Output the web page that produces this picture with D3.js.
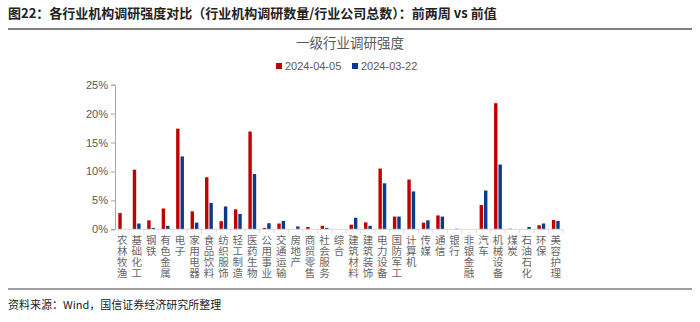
<!DOCTYPE html>
<html><head><meta charset="utf-8">
<script src="https://cdn.jsdelivr.net/npm/d3@7/dist/d3.min.js"></script>
<style>
html,body{margin:0;padding:0;background:#fff;}
svg{display:block;}
</style></head>
<body>
<svg id="chart" width="700" height="322"></svg>
<script>
const categories = ["农林牧渔","基础化工","钢铁","有色金属","电子","家用电器","食品饮料","纺织服饰","轻工制造","医药生物","公用事业","交通运输","房地产","商贸零售","社会服务","综合","建筑材料","建筑装饰","电力设备","国防军工","计算机","传媒","通信","银行","非银金融","汽车","机械设备","煤炭","石油石化","环保","美容护理"];
const series1Name = "2024-04-05";
const series1 = [2.8,10.3,1.55,3.6,17.4,3.1,9.0,1.4,3.45,16.9,0.25,1.0,0,0.4,0.6,0,0.8,1.2,10.5,2.2,8.6,1.15,2.4,0,0,4.2,21.8,0.1,0,0.7,1.6];
const series2Name = "2024-03-22";
const series2 = [0,1.0,0.25,0.6,12.6,1.15,4.55,3.95,2.65,9.55,1.05,1.45,0.5,0,0.25,0,2.0,0.6,7.95,2.2,6.55,1.55,2.2,0.1,0,6.7,11.2,0,0.4,1.0,1.45];
const yTicks = [0,5,10,15,20,25];

const svg = d3.select("#chart");
const red = "#C00000", blue = "#0A3A8A", gray = "#595959";
const cjk = "'Noto Sans CJK SC', 'Noto Sans', sans-serif";
const latin = "'Liberation Sans', Arial, sans-serif";

// Header
svg.append("text").attr("x", 8).attr("y", 18)
  .attr("font-family", cjk).attr("font-size", 13).attr("font-weight", "bold").attr("fill", "#222")
  .text("图22：各行业机构调研强度对比（行业机构调研数量/行业公司总数）：前两周 vs 前值");
svg.append("line").attr("x1", 8).attr("x2", 692).attr("y1", 29).attr("y2", 29)
  .attr("stroke", "#7f7f7f").attr("stroke-width", 2);

// Title
svg.append("text").attr("x", 350).attr("y", 48).attr("text-anchor", "middle")
  .attr("font-family", cjk).attr("font-size", 13.5).attr("fill", gray)
  .text("一级行业调研强度");

// Legend
const legend = [{name: series1Name, color: red, x: 276}, {name: series2Name, color: blue, x: 352}];
legend.forEach(l => {
  svg.append("rect").attr("x", l.x).attr("y", 63).attr("width", 6).attr("height", 6).attr("fill", l.color);
  svg.append("text").attr("x", l.x + 9).attr("y", 70)
    .attr("font-family", latin).attr("font-size", 11).attr("fill", gray).text(l.name);
});

// Scales
const x = d3.scaleBand().domain(categories).range([115, 563]).padding(0);
const y = d3.scaleLinear().domain([0, 25]).range([229.3, 84.7]);

// Y axis
const yAxis = svg.append("g").attr("transform", "translate(115,0)")
  .call(d3.axisLeft(y).tickValues(yTicks).tickSize(4).tickPadding(3).tickFormat(d => d + "%"));
yAxis.selectAll("path,line").attr("stroke", "#a6a6a6");
yAxis.selectAll("text").attr("font-family", latin).attr("font-size", 11).attr("fill", gray);

// Bars
const bw = 3.4, gap = 1;
const groups = svg.append("g");
categories.forEach((c, i) => {
  const cx = x(c) + x.bandwidth() / 2;
  groups.append("rect").attr("x", cx - gap/2 - bw).attr("width", bw)
    .attr("y", y(series1[i])).attr("height", y(0) - y(series1[i]))
    .attr("fill", red);
  groups.append("rect").attr("x", cx + gap/2).attr("width", bw)
    .attr("y", y(series2[i])).attr("height", y(0) - y(series2[i]))
    .attr("fill", blue);
});

// X axis line and ticks at band boundaries
const xg = svg.append("g");
xg.append("line").attr("x1", 115).attr("x2", 563).attr("y1", y(0)).attr("y2", y(0)).attr("stroke", "#d9d9d9");
categories.forEach((c, i) => {
  xg.append("line").attr("x1", x(c) + x.bandwidth()).attr("x2", x(c) + x.bandwidth())
    .attr("y1", y(0)).attr("y2", y(0) + 4).attr("stroke", "#d9d9d9");
  const t = xg.append("text").attr("font-family", cjk).attr("font-size", 10.5).attr("fill", "#666")
    .attr("text-anchor", "middle");
  Array.from(c).forEach((ch, k) => {
    t.append("tspan").attr("x", x(c) + x.bandwidth() / 2).attr("y", 244 + k * 11).text(ch);
  });
});

// Footer
svg.append("line").attr("x1", 8).attr("x2", 692).attr("y1", 289).attr("y2", 289)
  .attr("stroke", "#7f7f7f").attr("stroke-width", 1.5);
svg.append("text").attr("x", 8).attr("y", 309)
  .attr("font-family", cjk).attr("font-size", 11).attr("fill", "#222")
  .text("资料来源：Wind，国信证券经济研究所整理");
</script>
</body></html>
